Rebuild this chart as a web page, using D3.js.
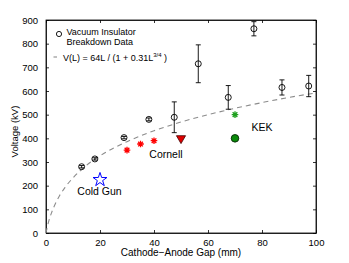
<!DOCTYPE HTML>
<html>
	<head>
		<title>Vacuum breakdown</title>
		<meta charset="UTF8">
		<script src='https://d3js.org/d3.v7.min.js'></script>
		<style>
			body { margin: 0; background: white; }
			svg { font-family: "Liberation Sans", Arial, sans-serif; }
		</style>
	</head>
	<body>
		<svg></svg>
	</body>
	<script>
		// vacuum insulator breakdown data (gap mm, kV, error kV)
		const vacGap = [13.2, 18.1, 28.9, 38.1, 47.5, 56.4, 67.5, 77, 87.4, 97.3];
		const vacV = [280, 313, 403, 480, 489, 715, 573, 863, 615, 621];
		const vacErr = [5, 5, 5, 6, 65, 80, 50, 30, 32, 45];

		// fit curve V(L)
		const fitGap = [0, 0.5, 1, 2, 3, 5, 7, 10, 15, 20, 30, 40, 50, 60, 70, 80, 90, 100];
		const fitV = [0, 27, 49, 84, 112, 157, 192, 233, 286, 326, 386, 432, 469, 500, 527, 551, 573, 592];

		const cornellGap = [30, 35, 40];
		const cornellV = [350, 376, 390];
		const cornellTri = [50, 400];
		const kekStar = [70, 500];
		const kekDot = [70, 400];
		const coldGun = [20, 225];

		const xTicks = [0, 20, 40, 60, 80, 100];
		const yTicks = [0, 100, 200, 300, 400, 500, 600, 700, 800, 900];

		const w = 349, h = 263;
		const pLeft = 46, pRight = 316, pTop = 20, pBottom = 233;

		const svg = d3.select('svg').attr("width", w).attr("height", h);

		const x = d3.scaleLinear().domain([0, 100]).range([pLeft, pRight]);
		const y = d3.scaleLinear().domain([0, 900]).range([pBottom, pTop]);

		// axes with inward ticks on all four sides
		svg.append('g')
			.attr("transform", "translate(0," + pBottom + ")")
			.call(d3.axisBottom(x).tickValues(xTicks).tickSizeInner(-3).tickSizeOuter(0).tickPadding(6));
		svg.append('g')
			.attr("transform", "translate(0," + pTop + ")")
			.call(d3.axisTop(x).tickValues(xTicks).tickSizeInner(-3).tickSizeOuter(0).tickFormat(""));
		svg.append('g')
			.attr("transform", "translate(" + pLeft + ",0)")
			.call(d3.axisLeft(y).tickValues(yTicks).tickSizeInner(-3).tickSizeOuter(0).tickPadding(8));
		svg.append('g')
			.attr("transform", "translate(" + pRight + ",0)")
			.call(d3.axisRight(y).tickValues(yTicks).tickSizeInner(-3).tickSizeOuter(0).tickFormat(""));

		svg.selectAll('.tick text').attr("font-size", 9.5).attr("fill", "black")
			.style("font-family", "'Liberation Sans', Arial, sans-serif");
		svg.selectAll('.domain, .tick line').attr("stroke", "black").attr("stroke-width", 0.8);

		svg.append('rect')
			.attr("x", pLeft).attr("y", pTop)
			.attr("width", pRight - pLeft).attr("height", pBottom - pTop)
			.attr("fill", "none").attr("stroke", "black").attr("stroke-width", 0.8);

		// axis titles
		svg.append('text')
			.attr("x", (pLeft + pRight) / 2).attr("y", 256)
			.attr("text-anchor", "middle").attr("font-size", 10)
			.text("Cathode\u2212Anode Gap (mm)");
		svg.append('text')
			.attr("transform", "translate(18," + ((pTop + pBottom) / 2 + 5) + ") rotate(-90)")
			.attr("text-anchor", "middle").attr("font-size", 9.5)
			.text("Voltage (kV)");

		// fit curve
		const fit = fitGap.map((g, i) => [g, fitV[i]]);
		svg.append('path')
			.datum(fit)
			.attr("d", d3.line().x(d => x(d[0])).y(d => y(d[1])).curve(d3.curveMonotoneX))
			.attr("fill", "none").attr("stroke", "#8c8c8c").attr("stroke-width", 1.1)
			.attr("stroke-dasharray", "5,4");

		// error bars and circles
		const vac = vacGap.map((g, i) => ({g: g, v: vacV[i], e: vacErr[i]}));
		const eb = svg.append('g').attr("stroke", "black").attr("stroke-width", 0.9);
		eb.selectAll('.bar').data(vac).enter().append('line')
			.attr("x1", d => x(d.g)).attr("x2", d => x(d.g))
			.attr("y1", d => y(d.v - d.e)).attr("y2", d => y(d.v + d.e));
		eb.selectAll('.capT').data(vac).enter().append('line')
			.attr("x1", d => x(d.g) - 2.5).attr("x2", d => x(d.g) + 2.5)
			.attr("y1", d => y(d.v + d.e)).attr("y2", d => y(d.v + d.e));
		eb.selectAll('.capB').data(vac).enter().append('line')
			.attr("x1", d => x(d.g) - 2.5).attr("x2", d => x(d.g) + 2.5)
			.attr("y1", d => y(d.v - d.e)).attr("y2", d => y(d.v - d.e));
		svg.selectAll('.vac').data(vac).enter().append('circle')
			.attr("cx", d => x(d.g)).attr("cy", d => y(d.v)).attr("r", 3)
			.attr("fill", "none").attr("stroke", "black").attr("stroke-width", 0.9);

		// asterisk marker like matlab '*'
		const asterisk = (r) => {
			let p = "";
			for (let k = 0; k < 4; k++) {
				const a = k * Math.PI / 4;
				p += "M" + (-r * Math.cos(a)) + "," + (-r * Math.sin(a)) + "L" + (r * Math.cos(a)) + "," + (r * Math.sin(a));
			}
			return p;
		};

		svg.selectAll('.cor').data(cornellGap).enter().append('path')
			.attr("transform", (d, i) => "translate(" + x(d) + "," + y(cornellV[i]) + ")")
			.attr("d", asterisk(3.3))
			.attr("stroke", "red").attr("stroke-width", 1.3).attr("fill", "none");

		svg.append('path')
			.attr("transform", "translate(" + x(kekStar[0]) + "," + y(kekStar[1]) + ")")
			.attr("d", asterisk(3.3))
			.attr("stroke", "#1fa01f").attr("stroke-width", 1.3).attr("fill", "none");

		svg.append('path')
			.attr("transform", "translate(" + x(cornellTri[0]) + "," + y(cornellTri[1]) + ") rotate(180)")
			.attr("d", d3.symbol().type(d3.symbolTriangle).size(36)())
			.attr("fill", "#e00000").attr("stroke", "#400000").attr("stroke-width", 0.8);

		svg.append('circle')
			.attr("cx", x(kekDot[0])).attr("cy", y(kekDot[1])).attr("r", 3.8)
			.attr("fill", "#0a8a0a").attr("stroke", "#062806").attr("stroke-width", 0.9);

		svg.append('path')
			.attr("transform", "translate(" + x(coldGun[0]) + "," + y(coldGun[1]) + ")")
			.attr("d", d3.symbol().type(d3.symbolStar).size(60)())
			.attr("fill", "none").attr("stroke", "blue").attr("stroke-width", 1);

		// annotations
		svg.append('text').attr("x", 99.5).attr("y", 194.5).attr("text-anchor", "middle")
			.attr("font-size", 10.5).text("Cold Gun");
		svg.append('text').attr("x", 166).attr("y", 158).attr("text-anchor", "middle")
			.attr("font-size", 10.5).text("Cornell");
		svg.append('text').attr("x", 262).attr("y", 130.5).attr("text-anchor", "middle")
			.attr("font-size", 10.5).text("KEK");

		// legend
		const legend = svg.append('g').attr("font-size", 9);
		legend.append('circle').attr("cx", 59).attr("cy", 34).attr("r", 2.6)
			.attr("fill", "none").attr("stroke", "black").attr("stroke-width", 0.9);
		legend.append('text').attr("x", 66.5).attr("y", 35).text("Vacuum Insulator");
		legend.append('text').attr("x", 66.5).attr("y", 44.5).text("Breakdown Data");
		legend.append('line').attr("x1", 53.5).attr("x2", 57).attr("y1", 57).attr("y2", 57)
			.attr("stroke", "#8c8c8c").attr("stroke-width", 1.1);
		const ft = legend.append('text').attr("x", 63).attr("y", 60.5);
		ft.append('tspan').text("V(L) = 64L / (1 + 0.31L");
		ft.append('tspan').attr("dy", -4).attr("font-size", 6).text("3/4");
		ft.append('tspan').attr("dy", 4).text(" )");
	</script>
</html>
